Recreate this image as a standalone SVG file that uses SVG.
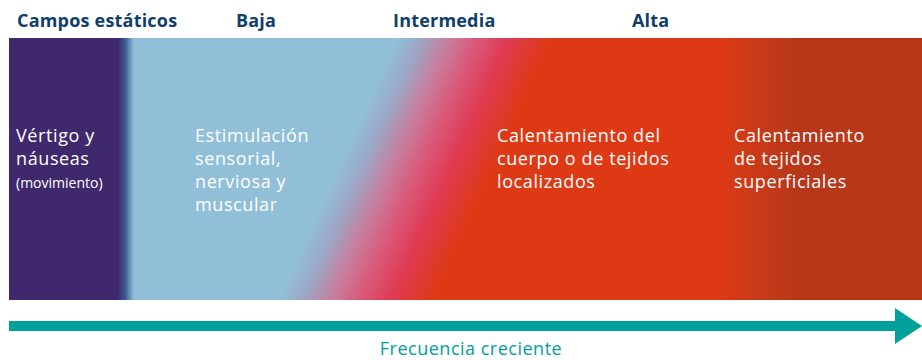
<svg xmlns="http://www.w3.org/2000/svg" width="922" height="360" viewBox="0 0 922 360">
<defs>
<linearGradient id="gPurple" x1="9" y1="0" x2="134" y2="0" gradientUnits="userSpaceOnUse">
<stop offset="0" stop-color="#3f296c"/>
<stop offset="0.87" stop-color="#3f296c"/>
<stop offset="0.93" stop-color="#3c5a92"/>
<stop offset="1" stop-color="#91bfd7"/>
</linearGradient>
<linearGradient id="gDiag" x1="351" y1="140" x2="479" y2="198" gradientUnits="userSpaceOnUse">
<stop offset="0" stop-color="#91bfd7"/>
<stop offset="0.15" stop-color="#9ca8c8"/>
<stop offset="0.35" stop-color="#c97c9c"/>
<stop offset="0.52" stop-color="#d95a7a"/>
<stop offset="0.72" stop-color="#df3b55"/>
<stop offset="1" stop-color="#de3915"/>
</linearGradient>
<linearGradient id="gRed" x1="600" y1="0" x2="922" y2="0" gradientUnits="userSpaceOnUse">
<stop offset="0" stop-color="#de3915"/>
<stop offset="0.37" stop-color="#de3915"/>
<stop offset="0.47" stop-color="#cc3a18"/>
<stop offset="0.6" stop-color="#b93719"/>
<stop offset="1" stop-color="#b93719"/>
</linearGradient>
</defs>
<style>
.hdr{font-family:"Open Sans","Noto Sans",sans-serif;font-weight:bold;font-size:18px;letter-spacing:0.2px;fill:#0f3e6b}
.body{font-family:"Open Sans","Noto Sans",sans-serif;font-size:18px;letter-spacing:0.6px;fill:#ffffff}
.small{font-family:"Open Sans","Noto Sans",sans-serif;font-size:14px;fill:#ffffff}
.axis{font-family:"Open Sans","Noto Sans",sans-serif;font-size:18px;letter-spacing:0.5px;fill:#00a19a}
</style>
<g id="band-diag"><rect x="130" y="38" width="480" height="262" fill="url(#gDiag)"/></g>
<g id="band-static"><rect x="9" y="38" width="125" height="262" fill="url(#gPurple)"/></g>
<g id="band-high"><rect x="600" y="38" width="322" height="262" fill="url(#gRed)"/></g>
<g id="headers">
<text class="hdr" x="17" y="27">Campos estáticos</text>
<text class="hdr" x="236" y="27">Baja</text>
<text class="hdr" x="393" y="27">Intermedia</text>
<text class="hdr" x="632" y="27">Alta</text>
</g>
<g id="node-static">
<text class="body" x="16" y="142">Vértigo y</text>
<text class="body" x="16" y="165">náuseas</text>
<text class="small" x="16" y="188">(movimiento)</text>
</g>
<g id="node-low">
<text class="body" x="195" y="142">Estimulación</text>
<text class="body" x="195" y="165">sensorial,</text>
<text class="body" x="195" y="188">nerviosa y</text>
<text class="body" x="195" y="211">muscular</text>
</g>
<g id="node-mid">
<text class="body" x="497" y="142">Calentamiento del</text>
<text class="body" x="497" y="165">cuerpo o de tejidos</text>
<text class="body" x="497" y="188">localizados</text>
</g>
<g id="node-high">
<text class="body" x="734" y="142">Calentamiento</text>
<text class="body" x="734" y="165">de tejidos</text>
<text class="body" x="734" y="188">superficiales</text>
</g>
<g id="connectors">
<rect x="9" y="321" width="888" height="10" fill="#00a19a"/>
<polygon points="895,308 922,326 895,344" fill="#00a19a"/>
<text class="axis" x="471" y="355" text-anchor="middle">Frecuencia creciente</text>
</g>
</svg>
